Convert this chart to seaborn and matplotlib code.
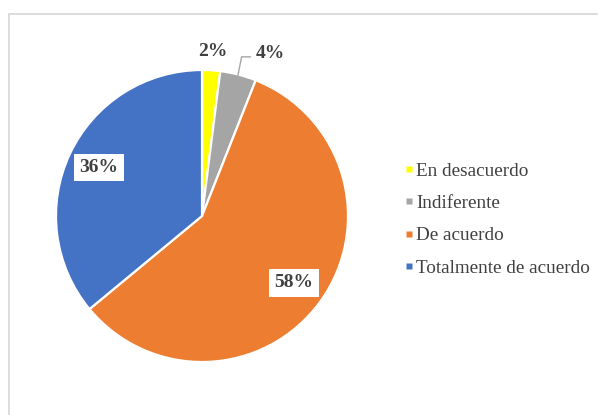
import numpy as np
import matplotlib
matplotlib.use("Agg")
import matplotlib.pyplot as plt
from matplotlib.lines import Line2D
import seaborn as sns

categories = ["En desacuerdo", "Indiferente", "De acuerdo", "Totalmente de acuerdo"]
values = [2, 4, 58, 36]
pct_labels = ["2%", "4%", "58%", "36%"]
colors = ["#FFFF00", "#A5A5A5", "#ED7D31", "#4472C4"]

sns.set_theme(style="white")
plt.rcParams["font.family"] = ["Liberation Serif", "DejaVu Serif"]
palette = sns.color_palette(colors)

fig = plt.figure(figsize=(5.98, 4.15), dpi=100)
fig.patch.set_facecolor("white")

# pie axes: centre ~ (202, 216) px, radius ~146 px
W, H = 598, 415
cx, cy, r = 202, 216, 146
ax = fig.add_axes([(cx - r) / W, (H - cy - r) / H, 2 * r / W, 2 * r / H])
wedges, _ = ax.pie(values, colors=palette, startangle=90, counterclock=False,
                   wedgeprops=dict(edgecolor="white", linewidth=1.6))
ax.set_xlim(-1, 1)
ax.set_ylim(-1, 1)
ax.set_aspect("equal")
ax.axis("off")

txt_color = "#404040"
pct_size = 14

def mid_angle(w):
    return np.deg2rad((w.theta1 + w.theta2) / 2)

# large slices: labels inside with white boxes
for i in (2, 3):
    a = mid_angle(wedges[i])
    ax.text(0.78 * np.cos(a), 0.78 * np.sin(a), pct_labels[i], ha="center", va="center",
            fontsize=pct_size, fontweight="bold", color=txt_color,
            bbox=dict(boxstyle="square,pad=0.28", facecolor="white", edgecolor="none"))

# 2% label just outside its slice
a0 = mid_angle(wedges[0])
ax.text(1.13 * np.cos(a0), 1.13 * np.sin(a0), pct_labels[0], ha="center", va="center",
        fontsize=pct_size, fontweight="bold", color=txt_color)

# 4% label with leader line
a1 = mid_angle(wedges[1])
p0 = (0.97 * np.cos(a1), 0.97 * np.sin(a1))
p1 = (p0[0] + 0.03, 1.09)
p2 = (p1[0] + 0.065, 1.09)
ax.plot([p0[0], p1[0], p2[0]], [p0[1], p1[1], p2[1]], color="#A6A6A6", lw=1.0,
        clip_on=False, solid_capstyle="butt")
ax.text(p2[0] + 0.03, 1.11, pct_labels[1], ha="left", va="center",
        fontsize=pct_size, fontweight="bold", color=txt_color)

# legend
handles = [Line2D([0], [0], marker="s", linestyle="none", markersize=4.5,
                  markerfacecolor=c, markeredgecolor="none") for c in palette]
leg = fig.legend(handles, categories, loc="center left",
                 bbox_to_anchor=(404 / W, 1 - 219.5 / H), frameon=False,
                 fontsize=13.8, labelcolor=txt_color, handlelength=0.5,
                 handletextpad=0.12, labelspacing=0.78, borderaxespad=0, borderpad=0)

# outer chart border (left and top edges)
border = "#D9D9D9"
fig.add_artist(Line2D([8.5 / W, 8.5 / W], [0, 1 - 14 / H], transform=fig.transFigure,
                      color=border, lw=1.3))
fig.add_artist(Line2D([8.5 / W, 597 / W], [1 - 14 / H, 1 - 14 / H], transform=fig.transFigure,
                      color=border, lw=1.3))

fig.savefig("out.png", dpi=100, facecolor="white")
